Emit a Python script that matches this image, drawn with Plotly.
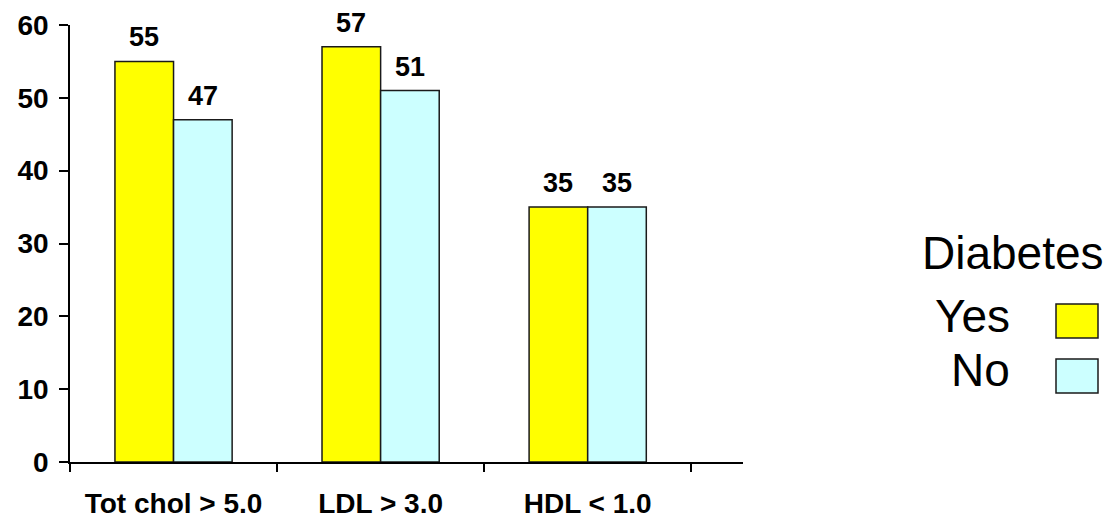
import plotly.graph_objects as go

# Lipid targets by diabetes status (%)
categories = ["Tot chol > 5.0", "LDL > 3.0", "HDL < 1.0"]
diabetes_yes = [55, 57, 35]
diabetes_no = [47, 51, 35]
series_names = ["Yes", "No"]
legend_title = "Diabetes"
y_ticks = [0, 10, 20, 30, 40, 50, 60]

FONT = "Arial, Liberation Sans, Helvetica, sans-serif"
YELLOW = "#FFFF00"
CYAN = "#CCFFFF"
EDGE = "#1a1a1a"

W, H = 1113, 521
L, R, T, B = 70, 370, 25, 59
PW, PH = W - L - R, H - T - B

BAR_W = 0.283  # width of one bar in category units

x_pos = list(range(len(categories)))

fig = go.Figure()
series = [(series_names[0], diabetes_yes, YELLOW, -BAR_W),
          (series_names[1], diabetes_no, CYAN, 0.0)]
for name, vals, col, off in series:
    fig.add_trace(go.Bar(
        x=x_pos, y=vals, name=name, width=BAR_W, offset=off,
        marker=dict(color=col, line=dict(color=EDGE, width=1.5)),
        showlegend=False,
    ))
    # value labels above each bar
    for xi, v in zip(x_pos, vals):
        fig.add_annotation(x=xi + off + BAR_W / 2, y=v, text=f"<b>{v}</b>",
                           xref="x", yref="y", xanchor="center", yanchor="bottom",
                           yshift=7, showarrow=False,
                           font=dict(family=FONT, size=27, color="black"))

fig.update_layout(
    width=W, height=H,
    margin=dict(l=L, r=R, t=T, b=B, pad=0, autoexpand=False),
    paper_bgcolor="white", plot_bgcolor="white",
    barmode="overlay",
    font=dict(family=FONT, color="black"),
)

fig.update_xaxes(
    range=[-0.5, 2.75],
    tickmode="array", tickvals=x_pos,
    ticktext=[f"<b>{c}</b>" for c in categories],
    ticks="outside", ticklen=0, tickfont=dict(family=FONT, size=28),
    ticklabelstandoff=16, automargin=False,
    minor=dict(tickmode="array", tickvals=[-0.5, 0.5, 1.5, 2.5],
               ticks="outside", ticklen=8, tickwidth=1.5, tickcolor="black",
               showgrid=False),
    showline=True, linecolor="black", linewidth=1.5,
    showgrid=False, zeroline=False, fixedrange=True,
)

fig.update_yaxes(
    range=[0, 60],
    tickmode="array", tickvals=y_ticks,
    ticktext=[f"<b>{v}</b>" for v in y_ticks],
    ticks="outside", ticklen=9, tickwidth=1.5, tickcolor="black",
    tickfont=dict(family=FONT, size=28),
    ticklabelstandoff=5, automargin=False,
    showline=True, linecolor="black", linewidth=1.5,
    showgrid=False, zeroline=False, fixedrange=True,
)


def px_x(px):
    return (px - L) / PW


def px_y(py):
    return (H - B - py) / PH


# Legend: title, labels to the left of colour boxes
fig.add_annotation(text=legend_title, xref="paper", yref="paper",
                   x=px_x(1013), y=px_y(253), xanchor="center", yanchor="middle",
                   showarrow=False, font=dict(family=FONT, size=46, color="black"))
box_rows = [(series_names[0], YELLOW, 316, 304, 338),
            (series_names[1], CYAN, 370, 359, 393)]
for label, col, ty, y0, y1 in box_rows:
    fig.add_annotation(text=label, xref="paper", yref="paper",
                       x=px_x(1012), y=px_y(ty), xanchor="right", yanchor="middle",
                       showarrow=False, font=dict(family=FONT, size=46, color="black"))
    fig.add_shape(type="rect", xref="paper", yref="paper",
                  x0=px_x(1056), x1=px_x(1098), y0=px_y(y1), y1=px_y(y0),
                  fillcolor=col, line=dict(color=EDGE, width=1.5))

fig.write_html("out.html")
